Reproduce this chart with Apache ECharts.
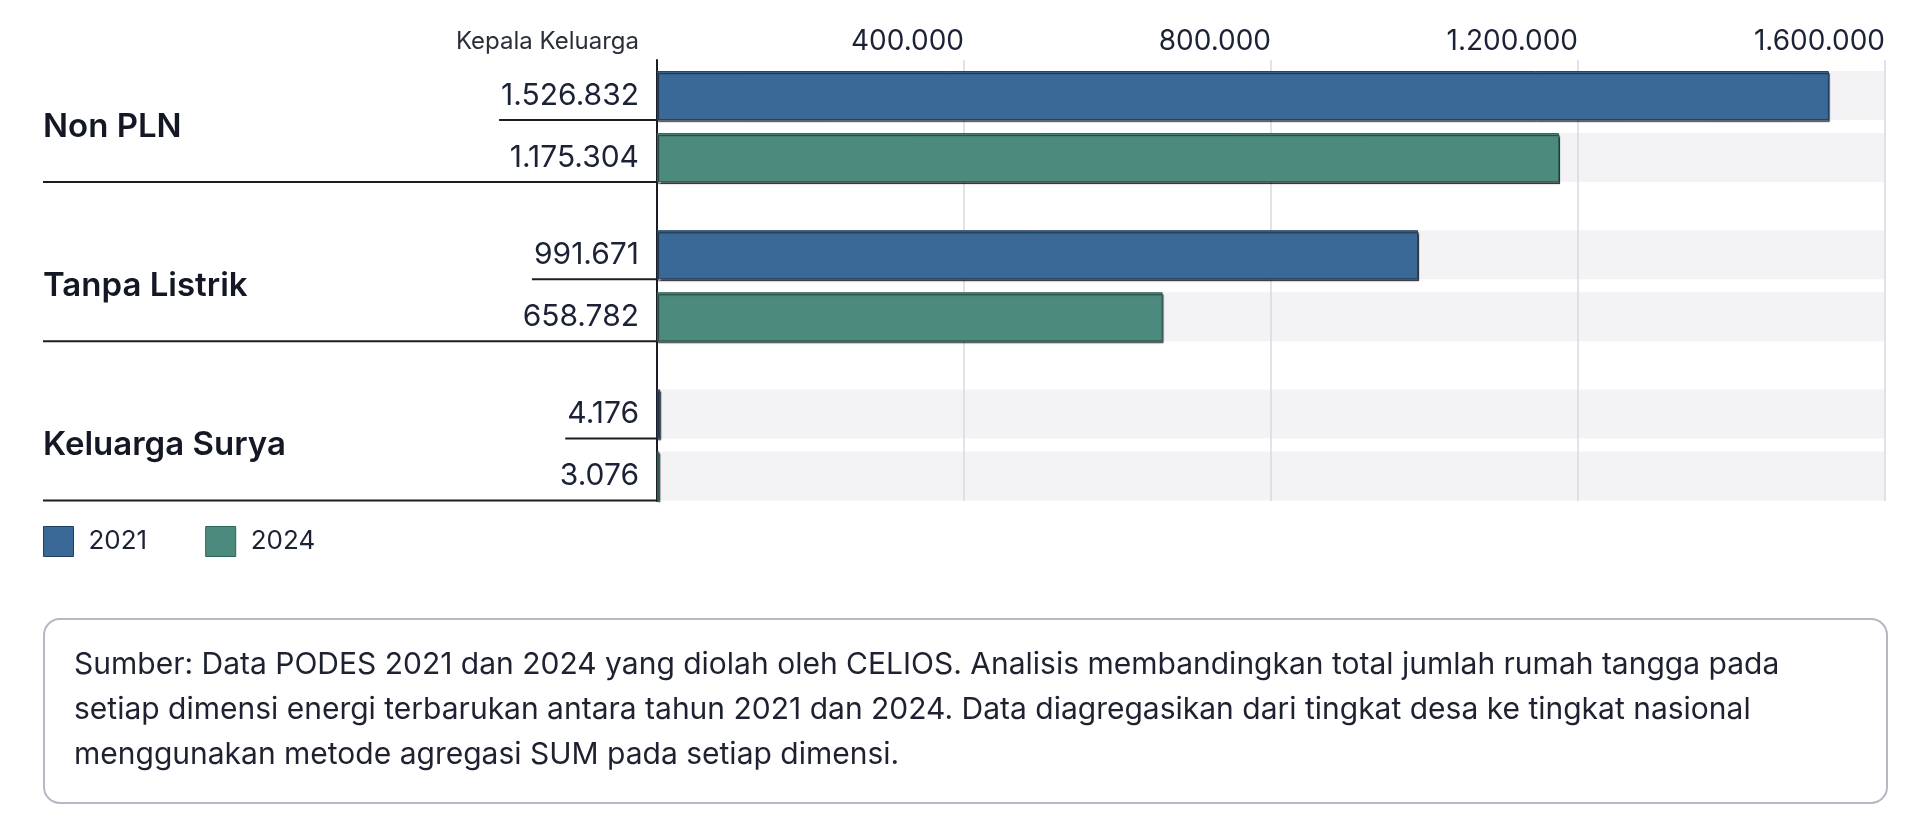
<!DOCTYPE html>
<html lang="id">
<head>
<meta charset="UTF-8">
<title>Rumah Tangga per Dimensi Energi</title>
<script src="https://cdn.jsdelivr.net/npm/echarts@6/dist/echarts.min.js"></script>
<style>
  html, body { margin: 0; padding: 0; background: #fff; }
  #main { width: 1920px; height: 827px; }
</style>
</head>
<body>
<div id="main"></div>
<script type="text/javascript">
// data
const categories = ['Non PLN', 'Tanpa Listrik', 'Keluarga Surya'];
const years = ['2021', '2024'];
const values2021 = [1526832, 991671, 4176];
const values2024 = [1175304, 658782, 3076];
const axisTicks = [0, 400000, 800000, 1200000, 1600000];
const unitLabel = 'Kepala Keluarga';
const noteText = [
  'Sumber: Data PODES 2021 dan 2024 yang diolah oleh CELIOS. Analisis membandingkan total jumlah rumah tangga pada',
  'setiap dimensi energi terbarukan antara tahun 2021 dan 2024. Data diagregasikan dari tingkat desa ke tingkat nasional',
  'menggunakan metode agregasi SUM pada setiap dimensi.'
];

const FONT = 'Inter, "Noto Sans", sans-serif';
const COLORS = ['#3a6997', '#4c8a7d'];
const BORDERS = ['#1f3e63', '#2a6358'];
const BAR_W = 49;
const BAR_GAP = 13;

function fmt(v) {
  return String(v).replace(/\B(?=(\d{3})+(?!\d))/g, '.');
}

// text width helper for the label underlines
const measureCtx = document.createElement('canvas').getContext('2d');
function textWidth(s, size, weight) {
  measureCtx.font = (weight || 400) + ' ' + size + 'px ' + FONT;
  return measureCtx.measureText(s).width;
}

const chart = echarts.init(document.getElementById('main'));

function renderSide(params, api) {
  const i = api.value(0);
  const p = api.coord([0, i]);
  const x0 = p[0], cy = p[1];
  const off = (BAR_W + BAR_GAP) / 2;
  const y21 = cy - off, y24 = cy + off;
  const half = BAR_W + BAR_GAP / 2;
  const v21 = fmt(values2021[i]);
  const v24 = fmt(values2024[i]);
  const labelRight = x0 - 18;
  const w21 = textWidth(v21, 30, 400);
  const lineStyle = { stroke: '#1c1c24', lineWidth: 2 };
  return {
    type: 'group',
    children: [
      {
        type: 'text',
        style: { text: categories[i], x: 43, y: cy, verticalAlign: 'middle', align: 'left',
                 font: '600 33px ' + FONT, fill: '#141824' }
      },
      {
        type: 'text',
        style: { text: v21, x: labelRight, y: y21, verticalAlign: 'middle', align: 'right',
                 font: '400 30px ' + FONT, fill: '#1b2236' }
      },
      {
        type: 'text',
        style: { text: v24, x: labelRight, y: y24, verticalAlign: 'middle', align: 'right',
                 font: '400 30px ' + FONT, fill: '#1b2236' }
      },
      {
        type: 'line',
        shape: { x1: labelRight - w21 - 2, y1: y21 + BAR_W / 2, x2: x0, y2: y21 + BAR_W / 2 },
        style: lineStyle
      },
      {
        type: 'line',
        shape: { x1: 43, y1: cy + half, x2: x0, y2: cy + half },
        style: lineStyle
      }
    ]
  };
}

const barItem = (k) => ({
  color: COLORS[k],
  borderColor: BORDERS[k],
  borderWidth: 1,
  shadowColor: 'rgba(0,0,0,0.6)',
  shadowOffsetY: 2,
  shadowOffsetX: 1,
  shadowBlur: 1
});

const option = {
  animation: false,
  textStyle: { fontFamily: FONT },
  legend: {
    data: years,
    left: 43,
    top: 526,
    padding: 0,
    icon: 'rect',
    itemWidth: 30,
    itemHeight: 30,
    itemGap: 58,
    itemStyle: { borderWidth: 1 },
    textStyle: { fontSize: 26, color: '#1b2236', padding: [0, 0, 0, 10] }
  },
  grid: [
    { left: 657, right: 35, top: 47, height: 477.5 },
    { left: 657, right: 35, top: 60, height: 441 }
  ],
  xAxis: [
    { gridIndex: 0, type: 'value', min: 0, max: 1600000, show: false },
    {
      gridIndex: 1, type: 'value', position: 'top',
      min: axisTicks[0], max: axisTicks[axisTicks.length - 1], interval: axisTicks[1] - axisTicks[0],
      axisLine: { show: false }, axisTick: { show: false },
      splitLine: { show: true, lineStyle: { color: '#e2e3e9', width: 2 } },
      axisLabel: {
        align: 'right', verticalAlign: 'middle', margin: 18,
        fontSize: 28, color: '#1b2236',
        formatter: (v) => v === 0 ? '{k|' + unitLabel + '}' : fmt(v),
        rich: { k: { fontSize: 24, color: '#2b2f3a', padding: [0, 18, 0, 0] } }
      }
    }
  ],
  yAxis: [
    { gridIndex: 0, type: 'category', inverse: true, data: categories, show: false },
    {
      gridIndex: 1, type: 'value', min: 0, max: 1,
      axisLine: { show: true, lineStyle: { color: '#1c1c24', width: 2 } },
      axisTick: { show: false }, axisLabel: { show: false }, splitLine: { show: false }
    }
  ],
  series: [
    {
      name: years[0], type: 'bar', xAxisIndex: 0, yAxisIndex: 0,
      data: values2021, barWidth: BAR_W, barGap: (BAR_GAP / BAR_W * 100) + '%',
      itemStyle: barItem(0),
      showBackground: true,
      backgroundStyle: { color: 'rgba(214,216,224,0.3)' }
    },
    {
      name: years[1], type: 'bar', xAxisIndex: 0, yAxisIndex: 0,
      data: values2024, barWidth: BAR_W,
      itemStyle: barItem(1),
      showBackground: true,
      backgroundStyle: { color: 'rgba(214,216,224,0.3)' }
    },
    {
      type: 'custom', xAxisIndex: 0, yAxisIndex: 0,
      data: categories.map((c, i) => [i]),
      renderItem: renderSide,
      silent: true, z: 5
    }
  ],
  graphic: [
    {
      type: 'rect', left: 43, top: 618,
      shape: { width: 1843, height: 184, r: 16 },
      style: { fill: '#fff', stroke: '#b6b8c2', lineWidth: 2 }
    },
    {
      type: 'text', left: 74, top: 642,
      style: { text: noteText.join('\n'), font: '400 30px ' + FONT, fill: '#1e2230', lineHeight: 45 }
    }
  ]
};

chart.setOption(option);
</script>
</body>
</html>
